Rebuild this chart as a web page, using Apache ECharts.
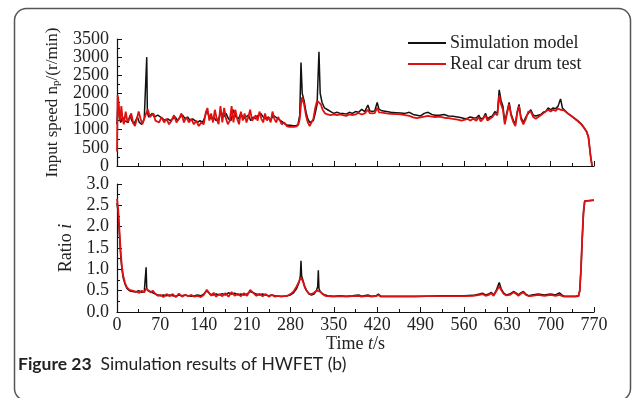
<!DOCTYPE html>
<html>
<head>
<meta charset="utf-8">
<script src="https://cdn.jsdelivr.net/npm/echarts@6/dist/echarts.min.js"></script>
<style>
html,body{margin:0;padding:0;background:#fff;}
#c{width:637px;height:398px;}
</style>
</head>
<body>
<div id="c"></div>
<script>
// ---- Data ----
var timeTicks = [0, 70, 140, 210, 280, 350, 420, 490, 560, 630, 700, 770];
var seriesNames = ['Simulation model', 'Real car drum test'];

// Input speed, simulation model
var simSpeedT = [0,2,4,6,9,12,15,18,21,24,27,30,33,36,40,44,47,48,49,51,54,57,60,63,66,70,74,78,82,86,90,94,98,102,106,110,114,118,122,126,130,134,138,142,145,148,152,156,160,164,168,172,176,180,184,188,192,196,200,204,208,212,216,220,224,228,232,236,240,244,248,252,256,260,264,268,272,276,280,284,288,292,295,297,299,302,305,308,311,314,317,320,323,326,328,331,335,340,345,350,355,360,365,370,375,380,385,390,395,400,405,408,412,416,420,423,428,435,442,450,458,465,472,478,484,490,496,502,508,514,520,528,535,542,550,556,562,566,570,575,580,584,587,591,595,598,602,606,610,614,617,620,623,626,629,633,636,640,643,646,649,652,656,660,664,668,672,676,680,684,688,692,696,700,704,708,712,716,719,722,726,730,735,740,745,750,754,758,761,763,765,767];
var simSpeed = [1150,1900,1300,1200,1350,1250,1300,1200,1400,1250,1150,1200,1350,1200,1150,1300,1350,3000,1500,1350,1400,1450,1350,1300,1400,1350,1300,1250,1300,1250,1300,1350,1250,1350,1400,1300,1350,1250,1300,1250,1200,1250,1200,1350,1550,1400,1300,1350,1250,1300,1500,1350,1450,1300,1250,1550,1350,1300,1450,1300,1350,1400,1250,1350,1300,1400,1450,1350,1300,1350,1250,1400,1350,1300,1250,1200,1150,1120,1120,1110,1110,1130,1400,2850,2000,1800,1500,1300,1200,1150,1250,1450,1700,3150,2000,1750,1600,1550,1500,1450,1480,1450,1450,1430,1480,1450,1500,1480,1560,1500,1680,1520,1500,1520,1750,1560,1520,1500,1480,1470,1460,1450,1480,1420,1400,1380,1450,1480,1420,1400,1400,1420,1380,1370,1350,1330,1300,1320,1350,1330,1320,1400,1300,1320,1450,1300,1350,1380,1500,1450,2100,1800,1650,1200,1450,1750,1450,1250,1150,1500,1700,1350,1200,1350,1450,1550,1400,1380,1400,1420,1480,1500,1600,1550,1600,1580,1650,1850,1600,1560,1480,1420,1360,1300,1230,1150,1050,950,800,500,200,0];

// Input speed, real car drum test
var realSpeedT = [0,1,3,5,7,9,11,14,17,20,23,26,29,32,35,38,41,44,47,50,53,56,59,62,65,68,72,76,80,84,88,92,96,100,104,108,112,116,120,124,128,132,136,140,143,146,149,152,155,158,161,164,167,170,173,176,179,182,185,188,191,194,197,200,203,206,209,212,215,218,221,224,227,230,233,236,239,242,245,248,251,254,257,260,263,266,270,274,278,282,286,290,293,295,297,299,302,305,308,311,314,317,320,323,326,329,332,336,340,345,350,355,360,365,370,375,380,385,390,395,400,405,408,412,416,420,423,428,435,442,450,458,465,472,478,484,490,496,502,508,514,520,528,535,542,550,556,562,566,570,575,580,584,587,591,595,598,602,606,610,614,617,620,623,626,629,633,636,640,643,646,649,652,656,660,664,668,672,676,680,684,688,692,696,700,704,708,712,716,719,722,726,730,735,740,745,750,754,758,761,763,765,767];
var realSpeed = [400,1950,1600,1250,1650,1300,1150,1500,1200,1150,1450,1200,1100,1150,1500,1300,1150,1200,1450,1550,1350,1300,1450,1250,1300,1200,1350,1200,1300,1150,1250,1400,1200,1300,1450,1200,1350,1200,1300,1150,1250,1100,1200,1150,1450,1600,1250,1450,1200,1550,1300,1150,1650,1200,1600,1300,1150,1250,1650,1200,1550,1300,1150,1500,1250,1450,1200,1350,1550,1250,1200,1400,1250,1500,1300,1200,1450,1250,1350,1200,1500,1300,1200,1350,1250,1150,1200,1100,1080,1080,1080,1090,1150,1300,1700,1900,1700,1400,1200,1100,1100,1300,1600,1800,1850,1700,1550,1450,1420,1400,1420,1400,1420,1400,1380,1420,1400,1420,1460,1420,1450,1550,1460,1450,1460,1600,1480,1470,1450,1440,1430,1420,1400,1380,1340,1320,1340,1360,1380,1360,1350,1360,1330,1320,1300,1280,1250,1280,1300,1250,1300,1250,1350,1230,1300,1400,1250,1300,1350,1450,1400,1950,1700,1550,1150,1400,1700,1400,1200,1100,1450,1650,1300,1150,1300,1500,1500,1350,1300,1350,1400,1450,1500,1550,1500,1550,1520,1580,1550,1550,1530,1470,1420,1360,1290,1220,1140,1050,950,800,500,200,0];

// Ratio i, simulation model
var simRatioT = [0,2,4,6,8,10,13,16,20,25,30,35,40,44,46,47,48,50,54,58,62,66,70,75,80,85,90,95,100,105,110,115,120,125,130,135,140,145,150,155,160,165,170,175,180,185,190,195,200,205,210,215,220,225,230,235,240,245,250,255,260,265,270,275,280,285,290,294,296,297,298,300,303,306,310,314,318,322,324,325,326,328,332,336,340,350,360,370,380,390,395,405,410,418,422,426,440,460,480,500,520,540,560,575,585,590,595,600,604,608,612,617,620,624,628,634,640,644,648,652,656,660,665,670,680,690,700,708,714,718,722,730,740,745,747,749,751,753,755,757,770];
var simRatio = [2.55,2.3,1.8,1.3,1.0,0.8,0.65,0.55,0.5,0.48,0.47,0.5,0.46,0.48,0.5,1.05,0.55,0.5,0.48,0.45,0.42,0.4,0.38,0.4,0.38,0.4,0.38,0.37,0.4,0.38,0.4,0.38,0.37,0.38,0.4,0.38,0.42,0.5,0.42,0.4,0.42,0.4,0.43,0.4,0.45,0.42,0.44,0.4,0.42,0.4,0.42,0.48,0.45,0.42,0.4,0.42,0.4,0.38,0.4,0.38,0.37,0.37,0.37,0.38,0.4,0.45,0.55,0.7,0.85,1.2,0.85,0.75,0.6,0.5,0.42,0.4,0.42,0.5,0.6,0.98,0.55,0.48,0.42,0.4,0.38,0.37,0.38,0.37,0.38,0.4,0.37,0.4,0.37,0.38,0.42,0.37,0.37,0.37,0.37,0.37,0.38,0.38,0.38,0.39,0.42,0.44,0.4,0.42,0.46,0.4,0.5,0.69,0.55,0.45,0.4,0.42,0.48,0.45,0.4,0.45,0.48,0.42,0.38,0.4,0.42,0.4,0.42,0.4,0.45,0.4,0.37,0.37,0.37,0.38,0.5,1.0,1.7,2.3,2.6,2.62,2.62];

// Ratio i, real car drum test
var realRatioT = [0,2,4,6,8,10,13,16,20,25,30,33,36,40,44,47,50,54,58,62,66,70,75,80,85,90,95,100,105,110,115,120,125,130,135,140,145,148,152,156,160,165,170,175,180,185,190,195,200,205,210,215,220,225,230,235,240,245,250,255,260,265,270,275,280,285,290,294,297,300,303,306,310,314,318,322,325,328,332,336,340,350,360,370,380,390,395,405,410,418,422,426,440,460,480,500,520,540,560,575,585,590,595,600,604,608,612,617,620,624,628,634,640,644,648,652,656,660,665,670,680,690,700,708,714,718,722,730,740,745,747,749,751,753,755,757,770];
var realRatio = [2.65,2.4,1.9,1.4,1.05,0.85,0.68,0.58,0.52,0.5,0.48,0.52,0.45,0.5,0.46,0.55,0.52,0.46,0.5,0.42,0.38,0.4,0.35,0.42,0.37,0.42,0.35,0.43,0.36,0.4,0.37,0.4,0.36,0.38,0.35,0.4,0.52,0.48,0.38,0.45,0.36,0.42,0.37,0.44,0.36,0.47,0.38,0.43,0.37,0.44,0.38,0.52,0.45,0.38,0.43,0.37,0.42,0.36,0.4,0.36,0.38,0.36,0.37,0.38,0.42,0.48,0.6,0.72,0.82,0.72,0.58,0.5,0.43,0.42,0.45,0.5,0.52,0.48,0.42,0.38,0.37,0.36,0.37,0.36,0.37,0.38,0.36,0.38,0.36,0.37,0.4,0.36,0.36,0.36,0.36,0.37,0.37,0.37,0.37,0.38,0.4,0.42,0.38,0.4,0.44,0.38,0.48,0.6,0.52,0.43,0.39,0.4,0.46,0.43,0.38,0.43,0.46,0.4,0.37,0.38,0.4,0.38,0.4,0.38,0.4,0.38,0.36,0.36,0.36,0.37,0.5,1.0,1.75,2.35,2.6,2.62,2.62];

function pairs(t, v) { return t.map(function (x, i) { return [x, v[i]]; }); }

var serif = '"Liberation Serif", "Times New Roman", serif';
var BLACK = '#111111', RED = '#e01010';

var chart = echarts.init(document.getElementById('c'), null, {renderer: 'canvas'});

function xAxisCfg(idx, showLabels) {
  return {
    type: 'value', gridIndex: idx, min: 0, max: 770, interval: 70,
    axisLine: {lineStyle: {color: '#111', width: 1.2}},
    axisTick: {inside: true, length: 5, lineStyle: {color: '#111'}},
    minorTick: {show: true, splitNumber: 2, length: 3, lineStyle: {color: '#111'}},
    splitLine: {show: false},
    axisLabel: {show: showLabels, color: '#222', fontFamily: serif, fontSize: 18, margin: 4,
      formatter: function (v) { return timeTicks.indexOf(v) >= 0 ? String(v) : ''; }},
    name: showLabels ? '{a|Time }{b|t}{a|/s}' : '',
    nameLocation: 'middle', nameGap: 22,
    nameTextStyle: {rich: {a: {fontFamily: serif, fontSize: 18, color: '#222'}, b: {fontFamily: serif, fontSize: 18, fontStyle: 'italic', color: '#222'}}}
  };
}

var option = {
  animation: false,
  backgroundColor: '#ffffff',
  grid: [
    {left: 117, top: 39, width: 477, height: 127},
    {left: 117, top: 184, width: 477, height: 128}
  ],
  legend: {
    left: 403, top: 29, orient: 'vertical', itemWidth: 38, itemHeight: 2, itemGap: 3,
    icon: 'rect',
    textStyle: {fontFamily: serif, fontSize: 18, color: '#222', padding: [0, 0, 0, -1]},
    data: [{name: seriesNames[0], itemStyle: {color: BLACK}}, {name: seriesNames[1], itemStyle: {color: RED}}]
  },
  xAxis: [xAxisCfg(0, false), xAxisCfg(1, true)],
  yAxis: [
    {
      type: 'value', gridIndex: 0, min: 0, max: 3500, interval: 500,
      axisLine: {show: true, lineStyle: {color: '#111', width: 1.2}},
      axisTick: {show: true, inside: true, length: 5, lineStyle: {color: '#111'}},
      minorTick: {show: true, splitNumber: 2, length: 3, lineStyle: {color: '#111'}},
      splitLine: {show: false},
      axisLabel: {color: '#222', fontFamily: serif, fontSize: 18, margin: 8,
        formatter: function (v) { return String(v); }},
      name: '{a|Input speed n}{s|p}{a|/(r/min)}',
      nameLocation: 'middle', nameGap: 50,
      nameTextStyle: {rich: {a: {fontFamily: serif, fontSize: 17, color: '#222'}, s: {fontFamily: serif, fontSize: 11, color: '#222', verticalAlign: 'bottom', padding: [8, 0, 0, 0]}}}
    },
    {
      type: 'value', gridIndex: 1, min: 0, max: 3, interval: 0.5,
      axisLine: {show: true, lineStyle: {color: '#111', width: 1.2}},
      axisTick: {show: true, inside: true, length: 5, lineStyle: {color: '#111'}},
      minorTick: {show: true, splitNumber: 2, length: 3, lineStyle: {color: '#111'}},
      splitLine: {show: false},
      axisLabel: {color: '#222', fontFamily: serif, fontSize: 18, margin: 8,
        formatter: function (v) { return v.toFixed(1); }},
      name: '{a|Ratio }{b|i}',
      nameLocation: 'middle', nameGap: 35,
      nameTextStyle: {rich: {a: {fontFamily: serif, fontSize: 18, color: '#222'}, b: {fontFamily: serif, fontSize: 18, fontStyle: 'italic', color: '#222'}}}
    }
  ],
  series: [
    {name: seriesNames[0], type: 'line', xAxisIndex: 0, yAxisIndex: 0, showSymbol: false, data: pairs(simSpeedT, simSpeed), lineStyle: {color: BLACK, width: 1.5}, itemStyle: {color: BLACK}, z: 2},
    {name: seriesNames[1], type: 'line', xAxisIndex: 0, yAxisIndex: 0, showSymbol: false, data: pairs(realSpeedT, realSpeed), lineStyle: {color: RED, width: 1.8}, itemStyle: {color: RED}, z: 3},
    {name: seriesNames[0], type: 'line', xAxisIndex: 1, yAxisIndex: 1, showSymbol: false, data: pairs(simRatioT, simRatio), lineStyle: {color: BLACK, width: 1.5}, itemStyle: {color: BLACK}, z: 2},
    {name: seriesNames[1], type: 'line', xAxisIndex: 1, yAxisIndex: 1, showSymbol: false, data: pairs(realRatioT, realRatio), lineStyle: {color: RED, width: 1.8}, itemStyle: {color: RED}, z: 3}
  ],
  graphic: [
    {type: 'rect', shape: {x: 14.5, y: 8.5, width: 616, height: 392, r: 12}, style: {fill: 'none', stroke: '#555', lineWidth: 1.5}, silent: true, z: 100},
    {type: 'text', left: 18, top: 355, silent: true, style: {
      text: '{b|Figure 23}{r|  Simulation results of HWFET (b)}',
      rich: {b: {fontFamily: 'Lato, "Noto Sans", sans-serif', fontWeight: 'bold', fontSize: 17.5, fill: '#222'},
             r: {fontFamily: 'Lato, "Noto Sans", sans-serif', fontSize: 17.5, fill: '#222'}}
    }}
  ]
};
chart.setOption(option);
</script>
</body>
</html>
